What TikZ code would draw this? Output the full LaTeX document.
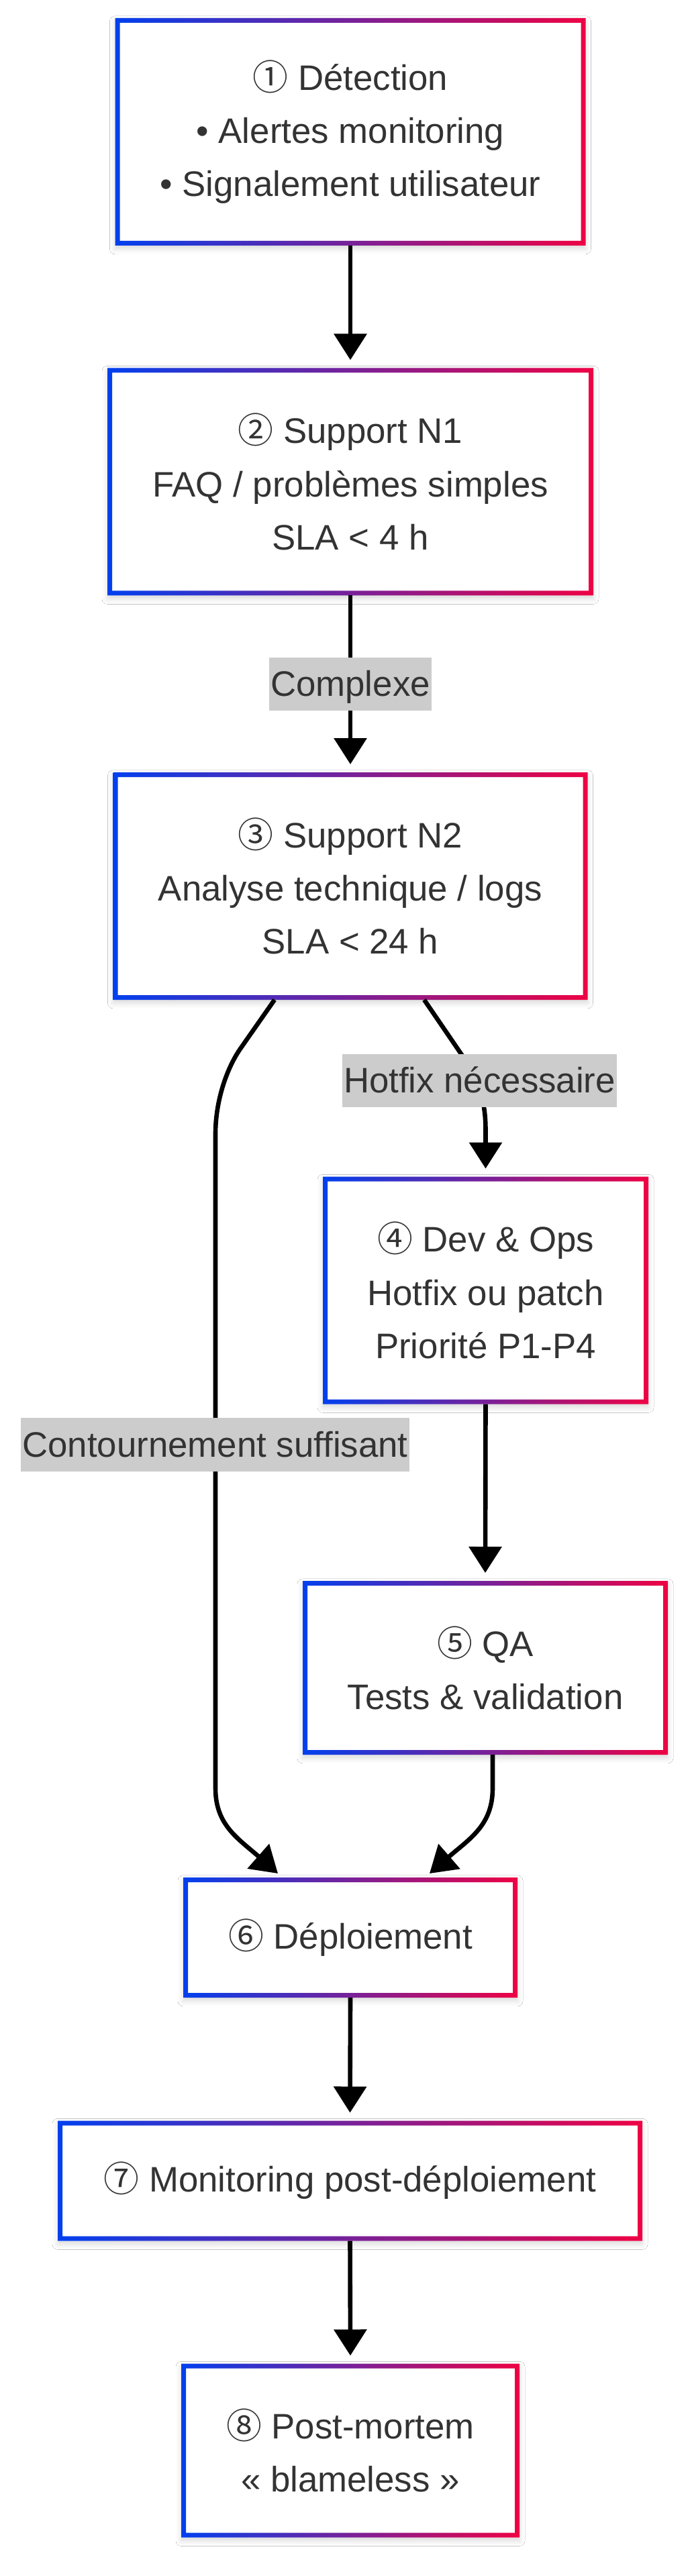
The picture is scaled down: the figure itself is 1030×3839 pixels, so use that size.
\documentclass[tikz,border=0pt]{standalone}
\usepackage{fontspec}
\setmainfont{Liberation Sans}
\newfontfamily\circfont{Noto Sans CJK SC}
\usetikzlibrary{arrows.meta,calc,shadows.blur}
\definecolor{cblue}{RGB}{2,64,238}
\definecolor{cred}{RGB}{238,2,68}
\definecolor{txt}{RGB}{51,51,51}
\definecolor{lblbg}{RGB}{204,204,204}
\newcommand{\cnum}[1]{{\circfont\fontsize{13.2pt}{19.8pt}\selectfont #1}}
\begin{document}
\begin{tikzpicture}[x=0.25pt,y=-0.25pt,
  box/.style 2 args={rectangle, fill=white, inner sep=0pt, outer sep=0pt,
    minimum width=#1, minimum height=#2, align=center, text=txt,
    font=\fontsize{13.2pt}{19.8pt}\selectfont,
    blur shadow={shadow xshift=0pt, shadow yshift=-1.2pt, shadow blur radius=2pt, shadow opacity=15}},
  lbl/.style={fill=lblbg, text=txt, inner xsep=0.5pt, inner ysep=0pt,
    minimum height=19.8pt, text height=9.5pt, text depth=0.5pt,
    font=\fontsize{13.2pt}{19.8pt}\selectfont},
  edge/.style={draw=black, line width=1.65pt, -{Triangle[length=9.75pt,width=12pt]}},
]
\fill[white] (0,0) rectangle (1030,3839);
\useasboundingbox (0,0) rectangle (1030,3839);

\node[box={175.25pt}{84.75pt}] (n1) at (522,196.5) {\cnum{①} Détection\\• Alertes monitoring\\• Signalement utilisateur};
\node[box={181pt}{84.75pt}] (n2) at (522,718) {\cnum{②} Support N1\\FAQ / problèmes simples\\SLA < 4 h};
\node[box={176.75pt}{84.75pt}] (n3) at (522,1320.5) {\cnum{③} Support N2\\Analyse technique / logs\\SLA < 24 h};
\node[box={121.25pt}{84.75pt}] (n4) at (723.5,1923) {\cnum{④} Dev \& Ops\\Hotfix ou patch\\Priorité P1-P4};
\node[box={136pt}{64.75pt}] (n5) at (723,2485.5) {\cnum{⑤} QA\\Tests \& validation};
\node[box={124.5pt}{44.75pt}] (n6) at (522,2887.5) {\cnum{⑥} Déploiement};
\node[box={217.75pt}{44.75pt}] (n7) at (521.5,3250) {\cnum{⑦} Monitoring post-déploiement};
\node[box={126pt}{64.75pt}] (n8) at (522,3652) {\cnum{⑧} Post-mortem\\« blameless »};

\foreach \i in {1,...,8}{
  \shade[left color=cblue, right color=cred, even odd rule]
    (n\i.south west) rectangle (n\i.north east)
    ($(n\i.south west)+(7,-7)$) rectangle ($(n\i.north east)+(-7,7)$);
}

\draw[edge] (n1.south) -- ($(n2.north)+(0,-12)$);
\draw[edge] (n2.south) -- ($(n3.north)+(0,-12)$);
\draw[edge] ($(n3.south)+(110,0)$) -- (690,1575) .. controls (714,1615) and (723.5,1640) .. (723.5,1685) -- ($(n4.north)+(0,-12)$);
\draw[edge] ($(n3.south)+(-113,0)$) -- (358,1563) .. controls (338,1592) and (321,1640) .. (321,1690) -- (321,2665) .. controls (321,2720) and (355,2740) .. ($(n6.north)+(-108,-6)$);
\draw[edge] (n4.south) -- ($(n5.north)+(0,-12)$);
\draw[edge] ($(n5.south)+(11,0)$) -- (734,2665) .. controls (734,2720) and (700,2740) .. ($(n6.north)+(118,-6)$);
\draw[edge] (n6.south) -- ($(n7.north)+(0,-12)$);
\draw[edge] (n7.south) -- ($(n8.north)+(0,-12)$);

\node[lbl] (l1) at (522,1019.5) {Complexe};
\node[lbl] (l2) at (714.5,1610.5) {Hotfix nécessaire};
\node[lbl] (l3) at (320.5,2153) {Contournement suffisant};
\end{tikzpicture}
\end{document}
